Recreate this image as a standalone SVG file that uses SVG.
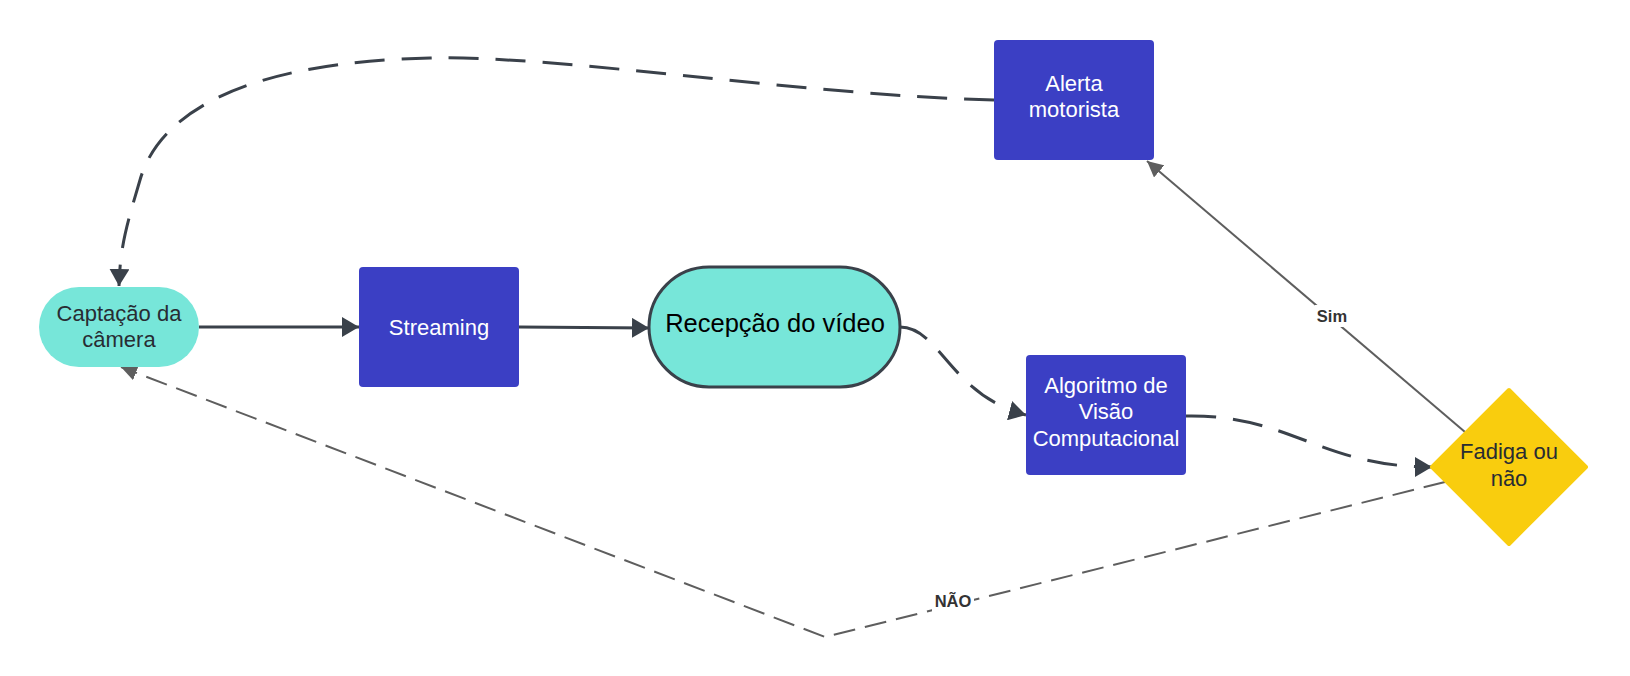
<svg xmlns="http://www.w3.org/2000/svg" width="1630" height="676" viewBox="0 0 1630 676">
<defs>
<style>
.t{font-family:"Liberation Sans",Arial,sans-serif;font-size:22px;text-anchor:middle}
.w{fill:#ffffff}
.d{fill:#282c33}
.box{fill:#3b3fc4}
.teal{fill:#77e6d9}
.c{fill:none;stroke:#3a414a;stroke-width:3}
.cd{fill:none;stroke:#3a414a;stroke-width:3;stroke-dasharray:30 17}
.g{fill:none;stroke:#5e5e5e;stroke-width:2}
.gd{fill:none;stroke:#5e5e5e;stroke-width:2;stroke-dasharray:22 10}
.lbl{font-family:"Liberation Sans",Arial,sans-serif;font-size:16.5px;font-weight:bold;fill:#333333;text-anchor:middle}
</style>
<marker id="ad" markerUnits="userSpaceOnUse" markerWidth="18" markerHeight="20" refX="17" refY="10" orient="auto">
<path d="M0,0 L17,10 L0,20 z" fill="#3a414a"/>
</marker>
<marker id="ag" markerUnits="userSpaceOnUse" markerWidth="17" markerHeight="16" refX="16" refY="8" orient="auto">
<path d="M0,0 L16,8 L0,16 z" fill="#5e5e5e"/>
</marker>
</defs>
<rect width="1630" height="676" fill="#ffffff"/>

<g id="connectors">
<path class="c" d="M199,327 L359,327" marker-end="url(#ad)"/>
<path class="c" d="M519,327 L649,328" marker-end="url(#ad)"/>
<path class="cd" d="M900,327 C940,327 950,395 1026,415" marker-end="url(#ad)"/>
<path class="cd" d="M1186,416 C1290,414 1320,467 1432,467" marker-end="url(#ad)"/>
<path class="g" d="M1465,432 L1147,161" marker-end="url(#ag)"/>
<path class="cd" d="M994,100 C800,95 560,55 430,58 C250,62 160,110 140,180 C125,230 120,250 119,286" marker-end="url(#ad)"/>
<path class="gd" d="M1445,482 L825,637 L121,367" marker-end="url(#ag)"/>
<rect x="1315" y="305" width="34" height="22" fill="#ffffff"/>
<text class="lbl" x="1332" y="322">Sim</text>
<rect x="932" y="590" width="42" height="22" fill="#ffffff"/>
<text class="lbl" x="953" y="607">NÃO</text>
</g>

<g id="captacao">
<rect class="teal" x="39" y="287" width="160" height="80" rx="40" ry="40"/>
<text class="t d" x="119" y="321">Captação da</text>
<text class="t d" x="119" y="347">câmera</text>
</g>

<g id="streaming">
<rect class="box" x="359" y="267" width="160" height="120" rx="4"/>
<text class="t w" x="439" y="335">Streaming</text>
</g>

<g id="recepcao">
<rect class="teal" x="649" y="267" width="251" height="120" rx="60" ry="60" stroke="#3a414a" stroke-width="3"/>
<text class="t" x="775" y="332" style="font-size:25.5px;fill:#000000">Recepção do vídeo</text>
</g>

<g id="algoritmo">
<rect class="box" x="1026" y="355" width="160" height="120" rx="4"/>
<text class="t w" x="1106" y="393">Algoritmo de</text>
<text class="t w" x="1106" y="419">Visão</text>
<text class="t w" x="1106" y="446">Computacional</text>
</g>

<g id="alerta">
<rect class="box" x="994" y="40" width="160" height="120" rx="4"/>
<text class="t w" x="1074" y="91">Alerta</text>
<text class="t w" x="1074" y="117">motorista</text>
</g>

<g id="fadiga">
<path d="M1509,390 L1586,467 L1509,544 L1432,467 Z" fill="#f9cd0e" stroke="#f9cd0e" stroke-width="4" stroke-linejoin="round"/>
<text class="t d" x="1509" y="459">Fadiga ou</text>
<text class="t d" x="1509" y="486">não</text>
</g>
</svg>
